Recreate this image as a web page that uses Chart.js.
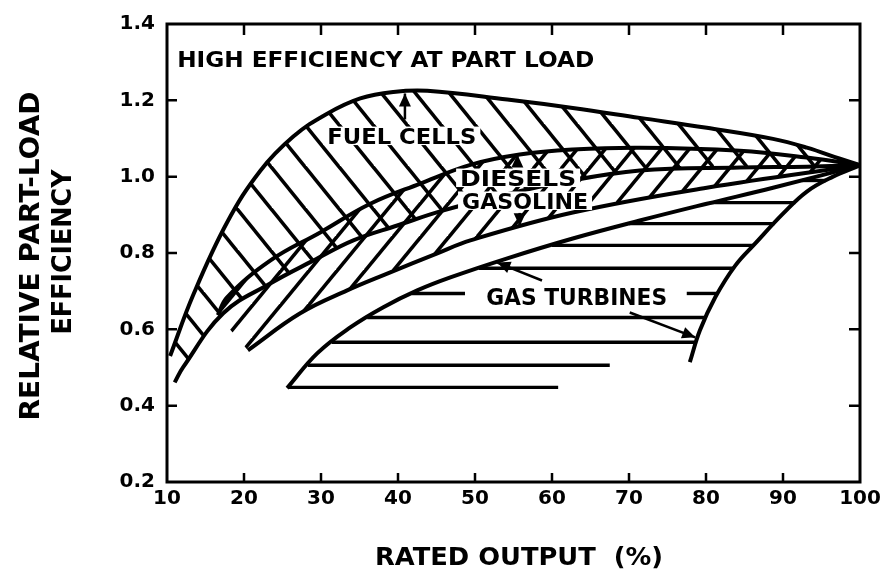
<!DOCTYPE html>
<html>
<head>
<meta charset="utf-8">
<script src="https://cdn.jsdelivr.net/npm/chart.js@4.4.0/dist/chart.umd.min.js"></script>
<style>
  html, body { margin: 0; padding: 0; background: #fff; }
</style>
</head>
<body>
<canvas id="chart" width="887" height="577"></canvas>
<script>
// axis ticks
const xTicks = [10, 20, 30, 40, 50, 60, 70, 80, 90, 100];
const yTicks = [0.2, 0.4, 0.6, 0.8, 1.0, 1.2, 1.4];

// fuel cells band (upper / lower edge)
const fuelUpperX = [10.4, 13.4, 17.8, 22.1, 26.4, 30.8, 35.1, 39.4, 43.8, 54.2, 62.7, 71.4, 80.1, 88.7, 93.1, 97.4, 100];
const fuelUpperY = [0.53, 0.69, 0.88, 1.015, 1.105, 1.165, 1.205, 1.222, 1.225, 1.202, 1.18, 1.154, 1.128, 1.099, 1.076, 1.047, 1.03];
const fuelLowerX = [11.0, 12.1, 17.3, 23.4, 29.0, 34.2, 39.9, 45.8, 53.3, 61.0, 71.4, 84.4, 93.1, 100];
const fuelLowerY = [0.461, 0.501, 0.642, 0.72, 0.78, 0.833, 0.872, 0.911, 0.95, 0.984, 1.016, 1.024, 1.026, 1.03];

// diesels / gasoline band
const dieselUpperX = [16.6, 17.8, 23.4, 29.9, 36.4, 42.9, 49.4, 55.8, 62.7, 71.4, 84.4, 93.1, 100];
const dieselUpperY = [0.637, 0.684, 0.78, 0.854, 0.929, 0.982, 1.031, 1.058, 1.071, 1.076, 1.068, 1.05, 1.03];
const dieselLowerX = [20.5, 27.3, 33.4, 38.6, 45.1, 49.4, 62.7, 80.1, 100];
const dieselLowerY = [0.545, 0.642, 0.702, 0.746, 0.799, 0.833, 0.906, 0.971, 1.03];

// gas turbines: left/upper edge, right edge, horizontal hatch lines
const turbineUpperX = [25.6, 29.5, 33.8, 38.1, 42.5, 46.8, 54.2, 62.7, 71.4, 80.1, 88.7, 100];
const turbineUpperY = [0.446, 0.537, 0.605, 0.658, 0.702, 0.736, 0.786, 0.838, 0.885, 0.929, 0.971, 1.03];
const turbineRightX = [77.9, 79.2, 81.2, 83.8, 86.4, 90.0, 93.1, 96.5, 100];
const turbineRightY = [0.514, 0.597, 0.684, 0.767, 0.825, 0.903, 0.961, 1.0, 1.03];
const turbineHatchY    = [0.99, 0.932, 0.877, 0.82, 0.76, 0.694, 0.694, 0.631, 0.566, 0.506, 0.448];
const turbineHatchFrom = [92.5, 80.5, 70.0, 60.0, 50.5, 41.8, 77.5, 36.0, 31.4, 28.3, 25.7];
const turbineHatchTo   = [95.6, 91.6, 88.9, 86.2, 83.6, 48.7, 81.4, 79.9, 78.8, 67.5, 60.8];

// labels and arrows, placed in data units
const labels = [
  { text: 'HIGH EFFICIENCY AT PART LOAD', x: 38.4, y: 1.308, size: 22, width: 417, box: false },
  { text: 'FUEL CELLS', x: 40.5, y: 1.107, size: 22, width: 149, box: true },
  { text: 'DIESELS', x: 55.6, y: 0.997, size: 22, width: 116, box: true },
  { text: 'GASOLINE', x: 56.5, y: 0.937, size: 22, width: 126, box: true },
  { text: 'GAS TURBINES', x: 63.2, y: 0.686, size: 23, width: 181, box: true }
];
const arrows = [
  [40.9, 1.15, 40.9, 1.218],
  [55.5, 1.032, 55.5, 1.058],
  [55.8, 0.905, 55.8, 0.87],
  [58.7, 0.728, 52.9, 0.775],
  [70.1, 0.644, 78.6, 0.579]
];

const FONT = '"DejaVu Sans", "Liberation Sans", Arial, sans-serif';
const canvas = document.getElementById('chart');
const ctx0 = canvas.getContext('2d');

function pts(xs, ys) { return xs.map((x, i) => ({ x: x, y: ys[i] })); }

// slanted line hatch; dir 1 = "\", -1 = "/"
function hatch(period, rise, dir, lw) {
  const c = document.createElement('canvas');
  c.width = period; c.height = rise;
  const g = c.getContext('2d');
  g.strokeStyle = '#000';
  g.lineWidth = lw;
  for (let k = -2; k <= 2; k++) {
    g.beginPath();
    if (dir > 0) {
      g.moveTo(k * period - period, -rise);
      g.lineTo(k * period + 2 * period, 2 * rise);
    } else {
      g.moveTo(k * period + period, -rise);
      g.lineTo(k * period - 2 * period, 2 * rise);
    }
    g.stroke();
  }
  return ctx0.createPattern(c, 'repeat');
}

const curve = (data) => ({
  data: data, showLine: true, fill: false, borderColor: '#000', borderWidth: 4,
  pointRadius: 0, tension: 0.4, order: 1
});
const region = (data, pattern) => ({
  data: data, showLine: true, fill: 'shape', backgroundColor: pattern, borderWidth: 0,
  borderColor: 'rgba(0,0,0,0)', pointRadius: 0, tension: 0.3, order: 3
});

const datasets = [
  region(pts(fuelUpperX, fuelUpperY).concat(pts(fuelLowerX, fuelLowerY).reverse()), hatch(34, 42, 1, 3.6)),
  region(pts(dieselUpperX, dieselUpperY).concat(pts(dieselLowerX, dieselLowerY).reverse()), hatch(28, 34, -1, 3.6)),
  curve(pts(fuelUpperX, fuelUpperY)),
  curve(pts(fuelLowerX, fuelLowerY)),
  curve(pts(dieselUpperX, dieselUpperY)),
  curve(pts(dieselLowerX, dieselLowerY)),
  curve(pts(turbineUpperX, turbineUpperY)),
  curve(pts(turbineRightX, turbineRightY))
];
turbineHatchY.forEach((y, i) => {
  datasets.push({
    data: [{ x: turbineHatchFrom[i], y: y }, { x: turbineHatchTo[i], y: y }],
    showLine: true, borderColor: '#000', borderWidth: 3.4, pointRadius: 0, order: 2
  });
});

function text(ctx, str, cx, cy, size, width, rot) {
  ctx.save();
  ctx.translate(cx, cy);
  if (rot) ctx.rotate(rot);
  ctx.font = 'bold ' + size + 'px ' + FONT;
  const w = ctx.measureText(str).width;
  ctx.scale(width / w, 1);
  ctx.textAlign = 'center';
  ctx.textBaseline = 'alphabetic';
  ctx.fillStyle = '#000';
  ctx.fillText(str, 0, size * 0.365);
  ctx.restore();
}

const decor = {
  id: 'decor',
  afterDatasetsDraw(chart) {
    const { ctx, chartArea: a, scales: { x, y } } = chart;
    ctx.save();
    // labels
    labels.forEach(l => {
      const cx = x.getPixelForValue(l.x), cy = y.getPixelForValue(l.y);
      if (l.box) {
        ctx.fillStyle = '#fff';
        ctx.fillRect(cx - l.width / 2 - 4, cy - l.size * 0.42, l.width + 8, l.size * 0.84);
      }
      text(ctx, l.text, cx, cy, l.size, l.width);
    });
    // arrows
    ctx.strokeStyle = '#000'; ctx.fillStyle = '#000'; ctx.lineWidth = 2.5;
    arrows.forEach(r => {
      const x1 = x.getPixelForValue(r[0]), y1 = y.getPixelForValue(r[1]);
      const x2 = x.getPixelForValue(r[2]), y2 = y.getPixelForValue(r[3]);
      const ang = Math.atan2(y2 - y1, x2 - x1);
      ctx.beginPath(); ctx.moveTo(x1, y1); ctx.lineTo(x2, y2); ctx.stroke();
      ctx.beginPath();
      ctx.moveTo(x2, y2);
      ctx.lineTo(x2 - 13 * Math.cos(ang) + 6 * Math.sin(ang), y2 - 13 * Math.sin(ang) - 6 * Math.cos(ang));
      ctx.lineTo(x2 - 13 * Math.cos(ang) - 6 * Math.sin(ang), y2 - 13 * Math.sin(ang) + 6 * Math.cos(ang));
      ctx.closePath(); ctx.fill();
    });
    // frame with inward ticks on all sides
    ctx.lineWidth = 3;
    ctx.strokeRect(a.left, a.top, a.right - a.left, a.bottom - a.top);
    ctx.lineWidth = 2.5;
    ctx.beginPath();
    xTicks.slice(1, -1).forEach(v => {
      const px = x.getPixelForValue(v);
      ctx.moveTo(px, a.bottom); ctx.lineTo(px, a.bottom - 9);
      ctx.moveTo(px, a.top); ctx.lineTo(px, a.top + 11);
    });
    yTicks.slice(1, -1).forEach(v => {
      const py = y.getPixelForValue(v);
      ctx.moveTo(a.left, py); ctx.lineTo(a.left + 10, py);
      ctx.moveTo(a.right, py); ctx.lineTo(a.right - 11, py);
    });
    ctx.stroke();
    // axis titles
    text(ctx, 'RATED OUTPUT  (%)', 519, 556, 25, 288);
    text(ctx, 'RELATIVE PART-LOAD', 29, 256, 27, 329, -Math.PI / 2);
    text(ctx, 'EFFICIENCY', 61, 252, 27, 165, -Math.PI / 2);
    ctx.restore();
  }
};

const tickFont = { family: FONT, size: 20, weight: 'bold' };

new Chart(canvas, {
  type: 'scatter',
  data: { datasets: datasets },
  options: {
    responsive: false,
    animation: false,
    devicePixelRatio: 1,
    layout: { padding: { left: 0, top: 23, right: 27, bottom: 0 } },
    plugins: { legend: { display: false }, tooltip: { enabled: false } },
    scales: {
      x: {
        type: 'linear', min: 10, max: 100,
        afterBuildTicks: s => { s.ticks = xTicks.map(v => ({ value: v })); },
        afterFit: s => { s.height = 95; },
        ticks: { font: tickFont, color: '#000', padding: 5, maxRotation: 0, autoSkip: false },
        grid: { display: false, drawTicks: false },
        border: { display: false }
      },
      y: {
        type: 'linear', min: 0.2, max: 1.4,
        afterBuildTicks: s => { s.ticks = yTicks.map(v => ({ value: v })); },
        afterFit: s => { s.width = 167; },
        ticks: { font: tickFont, color: '#000', padding: 12, callback: v => v.toFixed(1) },
        grid: { display: false, drawTicks: false },
        border: { display: false }
      }
    }
  },
  plugins: [decor]
});
</script>
</body>
</html>
